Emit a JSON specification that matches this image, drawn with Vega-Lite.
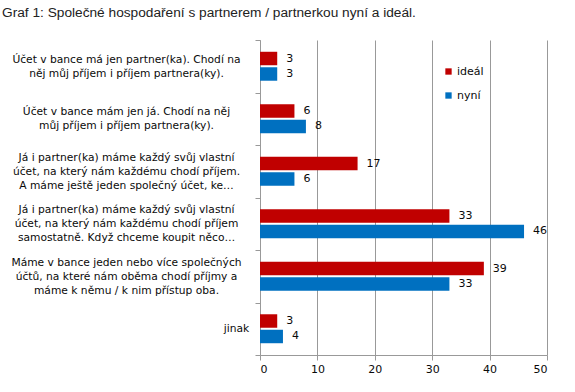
{
  "$schema": "https://vega.github.io/schema/vega-lite/v6.json",
  "width": 287,
  "height": 315,
  "autosize": "none",
  "padding": {"left": 260, "top": 40, "right": 28, "bottom": 37},
  "background": "white",
  "title": {
    "text": "Graf 1: Společné hospodaření s partnerem / partnerkou nyní a ideál.",
    "anchor": "start",
    "frame": "group",
    "dx": -258,
    "offset": 14,
    "font": "Liberation Sans",
    "fontSize": 13.7,
    "fontWeight": "normal",
    "color": "#222222"
  },
  "data": {
    "values": [
      {"cat": "Účet v bance má jen partner(ka). Chodí na|něj můj příjem i příjem partnera(ky).", "serie": "ideál", "value": 3},
      {"cat": "Účet v bance má jen partner(ka). Chodí na|něj můj příjem i příjem partnera(ky).", "serie": "nyní", "value": 3},
      {"cat": "Účet v bance mám jen já. Chodí na něj|můj příjem i příjem partnera(ky).", "serie": "ideál", "value": 6},
      {"cat": "Účet v bance mám jen já. Chodí na něj|můj příjem i příjem partnera(ky).", "serie": "nyní", "value": 8},
      {"cat": "Já i partner(ka) máme každý svůj vlastní|účet, na který nám každému chodí příjem.|A máme ještě jeden společný účet, ke…", "serie": "ideál", "value": 17},
      {"cat": "Já i partner(ka) máme každý svůj vlastní|účet, na který nám každému chodí příjem.|A máme ještě jeden společný účet, ke…", "serie": "nyní", "value": 6},
      {"cat": "Já i partner(ka) máme každý svůj vlastní|účet, na který nám každému chodí příjem|samostatně. Když chceme koupit něco…", "serie": "ideál", "value": 33},
      {"cat": "Já i partner(ka) máme každý svůj vlastní|účet, na který nám každému chodí příjem|samostatně. Když chceme koupit něco…", "serie": "nyní", "value": 46},
      {"cat": "Máme v bance jeden nebo více společných|účtů, na které nám oběma chodí příjmy a|máme k němu / k nim přístup oba.", "serie": "ideál", "value": 39},
      {"cat": "Máme v bance jeden nebo více společných|účtů, na které nám oběma chodí příjmy a|máme k němu / k nim přístup oba.", "serie": "nyní", "value": 33},
      {"cat": "jinak", "serie": "ideál", "value": 3},
      {"cat": "jinak", "serie": "nyní", "value": 4}
    ]
  },
  "encoding": {
    "y": {
      "field": "cat",
      "type": "nominal",
      "sort": null,
      "scale": {"paddingInner": 0, "paddingOuter": 0},
      "axis": {
        "title": null,
        "labelExpr": "split(datum.label, '|')",
        "labelAlign": "center",
        "labelBaseline": "middle",
        "labelPadding": {"condition": {"test": "datum.value === 'jinak'", "value": 19}, "value": 129},
        "labelOffset": {"condition": [
          {"test": "length(split(datum.value, '|')) === 3", "value": -14},
          {"test": "length(split(datum.value, '|')) === 2", "value": -7}
        ], "value": 0},
        "labelLimit": 0,
        "labelLineHeight": 14,
        "labelFont": "DejaVu Sans",
        "labelFontSize": 10.7,
        "labelColor": "#0a0a0a",
        "tickBand": "extent",
        "tickSize": 5,
        "tickColor": "#999999",
        "domainColor": "#999999",
        "grid": false
      }
    },
    "yOffset": {
      "field": "serie",
      "type": "nominal",
      "sort": ["ideál", "nyní"],
      "scale": {"paddingInner": 0.13, "paddingOuter": 0.76}
    }
  },
  "layer": [
    {
      "mark": {"type": "bar"},
      "encoding": {
        "x": {
          "field": "value",
          "type": "quantitative",
          "scale": {"domain": [0, 50]},
          "axis": {
            "title": null,
            "values": [0, 10, 20, 30, 40, 50],
            "grid": true,
            "gridColor": "#999999",
            "domainColor": "#999999",
            "tickColor": "#999999",
            "tickSize": 5,
            "labelFont": "DejaVu Sans",
            "labelFontSize": 11,
            "labelColor": "#0a0a0a",
            "labelPadding": 3
          }
        },
        "color": {
          "field": "serie",
          "type": "nominal",
          "sort": ["ideál", "nyní"],
          "scale": {"domain": ["ideál", "nyní"], "range": ["#C00000", "#0070C0"]},
          "legend": {
            "title": null,
            "orient": "none",
            "legendX": 183,
            "legendY": 26,
            "symbolType": "square",
            "symbolSize": 40,
            "symbolStrokeWidth": 0,
            "labelFont": "DejaVu Sans",
            "labelFontSize": 11,
            "labelColor": "#0a0a0a",
            "rowPadding": 12,
            "labelOffset": 3
          }
        }
      }
    },
    {
      "mark": {"type": "text", "align": "left", "baseline": "middle", "dx": 9, "font": "DejaVu Sans", "fontSize": 11, "color": "#0a0a0a"},
      "encoding": {
        "x": {"field": "value", "type": "quantitative"},
        "text": {"field": "value", "type": "quantitative"}
      }
    }
  ],
  "config": {"view": {"stroke": null}}
}
